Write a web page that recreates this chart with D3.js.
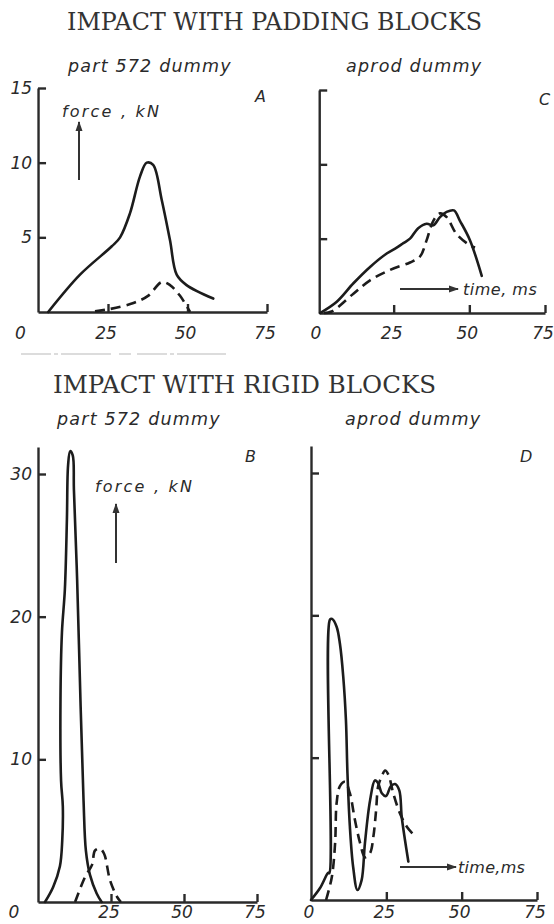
<!DOCTYPE html>
<html>
<head>
<meta charset="utf-8">
<script src="https://cdn.jsdelivr.net/npm/d3@7"></script>
<style>
  body { margin: 0; background: #fff; }
  svg { display: block; }
  .lbl { font-family: "DejaVu Sans", sans-serif; font-style: italic; fill: #2a2a2a; }
  .ttl { font-family: "DejaVu Serif", serif; fill: #333; }
</style>
</head>
<body>
<svg id="chart"></svg>
<script>
// tick values
const xTicks = [0, 25, 50, 75];
const padYTicks = [5, 10, 15];
const rigidYTicks = [10, 20, 30];

// A: padding blocks, part 572 dummy  [time ms, force kN]
const aSolid = [[6.2, 0], [16.2, 2.5], [26.2, 4.4], [28.8, 5.0], [31.9, 6.6], [35.1, 9.1],
  [37.2, 10.0], [39.2, 9.85], [41.9, 7.5], [44.5, 4.8], [46.6, 2.5], [49.7, 1.8], [58.1, 0.9]];
const aDashed = [[20.9, 0.05], [25.6, 0.2], [33.0, 0.6], [37.7, 1.1], [41.9, 2.0],
  [44.5, 1.8], [47.6, 1.1], [50.8, 0]];

// C: padding blocks, aprod dummy
const cSolid = [[0.7, 0], [6.2, 0.76], [11.7, 2.0], [17.2, 3.1], [22.7, 4.0], [26.0, 4.4],
  [28.2, 4.7], [30.4, 5.0], [33.1, 5.7], [35.9, 6.0], [38.1, 5.9], [40.3, 6.45], [42.5, 6.8],
  [44.9, 6.9], [46.9, 6.2], [50.2, 4.9], [54.1, 2.5]];
const cDashed = [[2.0, 0], [4.5, 0.1], [11.7, 1.3], [17.2, 2.2], [23.8, 2.9], [30.4, 3.4],
  [33.7, 3.8], [35.9, 4.9], [38.1, 6.2], [40.3, 6.7], [42.5, 6.45], [45.8, 5.3], [50.2, 4.55], [51.9, 4.4]];

// B: rigid blocks, part 572 dummy
const bSolid = [[2.4, 0], [5.2, 1.05], [7.5, 2.5], [8.3, 4.3], [8.5, 6.7], [7.9, 8.5], [7.7, 14.2],
  [8.2, 18.9], [9.2, 21.9], [9.9, 26.8], [10.3, 30.6], [11.0, 31.6], [11.9, 31.3], [12.3, 28.9],
  [13.4, 22.6], [14.6, 13.7], [15.6, 7.1], [16.4, 3.6], [17.8, 1.9], [20.1, 0.6], [21.8, 0]];
const bDashed = [[12.7, 0], [16.1, 1.75], [18.5, 2.6], [19.5, 3.6], [21.1, 3.75], [22.6, 3.4],
  [24.7, 1.5], [27.1, 0.35], [28.4, 0]];

// D: rigid blocks, aprod dummy
const dSolid = [[0, 0], [3.0, 0.84], [5.7, 1.9], [6.1, 1.9], [6.3, 19.7], [7.0, 19.75], [8.5, 19.2],
  [9.6, 18.0], [10.7, 15.7], [11.6, 12.6], [12.1, 8.9], [12.9, 5.15], [14.0, 2.3], [15.4, 0.7],
  [16.8, 1.4], [17.9, 4.0], [19.6, 7.0], [21.2, 8.4], [22.3, 8.2], [23.5, 7.5], [24.9, 7.3],
  [26.5, 8.0], [27.9, 8.15], [29.3, 7.7], [30.1, 5.85], [31.2, 4.2], [32.3, 2.7]];
const dDashed = [[5.0, 0], [6.9, 1.6], [8.0, 4.0], [8.5, 6.8], [9.6, 8.0], [11.3, 8.3], [12.9, 7.5],
  [14.6, 5.6], [16.3, 4.0], [17.9, 3.0], [19.6, 3.3], [20.7, 4.45], [21.6, 6.3], [22.3, 8.0],
  [23.5, 8.7], [24.6, 9.1], [25.7, 8.8], [27.3, 7.5], [29.5, 6.1], [31.8, 5.15], [34.0, 4.6]];

const W = 554, H = 924;
const ink = "#1c1c1c";

const svg = d3.select("#chart").attr("width", W).attr("height", H);

svg.append("defs").append("marker")
  .attr("id", "head").attr("viewBox", "0 0 10 10")
  .attr("refX", 9).attr("refY", 5)
  .attr("markerWidth", 5).attr("markerHeight", 5)
  .attr("markerUnits", "strokeWidth")
  .attr("orient", "auto")
  .append("path").attr("d", "M0,1.5 L10,5 L0,8.5 Z").attr("fill", "#333");

// titles (typewriter look: serif stretched to fixed width)
svg.append("text").attr("class", "ttl").attr("x", 67).attr("y", 30)
  .attr("textLength", 415).attr("lengthAdjust", "spacingAndGlyphs")
  .style("font-size", "24px")
  .text("IMPACT WITH PADDING BLOCKS");
svg.append("text").attr("class", "ttl").attr("x", 53).attr("y", 393)
  .attr("textLength", 383).attr("lengthAdjust", "spacingAndGlyphs")
  .style("font-size", "24px")
  .text("IMPACT WITH RIGID BLOCKS");

// faint scan mark between the two halves
svg.append("line").attr("x1", 21).attr("x2", 226).attr("y1", 354).attr("y2", 354)
  .attr("stroke", "#777").attr("stroke-width", 1.2).attr("stroke-dasharray", "30 3 4 3 50 8 12 6")
  .attr("opacity", 0.5);

const panels = [
  { solid: aSolid, dashed: aDashed, xr: [28.5, 267], yr: [312, 88], top: 15, ymax: 15,
    yTicks: padYTicks, yLabels: true, axisAt: 3, zeroDx: -8, labY: 339,
    sub: "part 572 dummy", subX: 68, subY: 72, letter: "A", letX: 255, letY: 102 },
  { solid: cSolid, dashed: cDashed, xr: [318, 545], yr: [313, 90], top: 15, ymax: 15,
    yTicks: padYTicks, yLabels: false, axisAt: 0.4, zeroDx: -2, labY: 339,
    sub: "aprod dummy", subX: 346, subY: 72, letter: "C", letX: 539, letY: 105 },
  { solid: bSolid, dashed: bDashed, xr: [38, 257], yr: [902, 474], top: 31.9, ymax: 30,
    yTicks: rigidYTicks, yLabels: true, axisAt: 0, zeroDx: -24, labY: 918,
    sub: "part 572 dummy", subX: 57, subY: 425, letter: "B", letX: 245, letY: 462 },
  { solid: dSolid, dashed: dDashed, xr: [311, 537], yr: [900, 473], top: 31.9, ymax: 30,
    yTicks: rigidYTicks, yLabels: false, axisAt: 0, zeroDx: -2, labY: 918,
    sub: "aprod dummy", subX: 345, subY: 425, letter: "D", letX: 520, letY: 462 }
];

panels.forEach(p => {
  const x = d3.scaleLinear().domain([0, 75]).range(p.xr);
  const y = d3.scaleLinear().domain([0, p.ymax]).range(p.yr);
  const ax = x(p.axisAt);
  const g = svg.append("g");

  // y axis, ticks pointing inwards
  const yAxisScale = y.copy().domain([0, p.top]).range([y(0), y(p.top)]);
  g.append("g").attr("transform", `translate(${ax},0)`)
    .call(d3.axisLeft(yAxisScale).tickValues(p.yTicks).tickSizeInner(-8).tickSizeOuter(0).tickFormat(""))
    .call(s => s.selectAll("path, line").attr("stroke", "#2a2a2a").attr("stroke-width", 2.4));

  // x axis, ticks pointing up
  const xAxisScale = x.copy().domain([p.axisAt, 75]).range([ax, x(75)]);
  g.append("g").attr("transform", `translate(0,${y(0)})`)
    .call(d3.axisBottom(xAxisScale).tickValues([25, 50, 75]).tickSizeInner(-8).tickSizeOuter(0).tickFormat(""))
    .call(s => s.selectAll("path, line").attr("stroke", "#2a2a2a").attr("stroke-width", 2.4));

  // tick labels
  g.selectAll(".xl").data(xTicks).join("text")
    .attr("class", "lbl").attr("x", d => x(d) + (d === 0 ? p.zeroDx : -2)).attr("y", p.labY)
    .attr("text-anchor", "middle").style("font-size", "17px").text(d => d);
  if (p.yLabels) {
    g.selectAll(".yl").data(p.yTicks).join("text")
      .attr("class", "lbl").attr("x", ax - 6).attr("y", d => y(d) + 6)
      .attr("text-anchor", "end").style("font-size", "17px").text(d => d);
  }

  const line = d3.line().x(d => x(d[0])).y(d => y(d[1])).curve(d3.curveCatmullRom.alpha(0.5));
  g.append("path").datum(p.solid).attr("d", line)
    .attr("fill", "none").attr("stroke", ink).attr("stroke-width", 2.6)
    .attr("stroke-linejoin", "round").attr("stroke-linecap", "round");
  g.append("path").datum(p.dashed).attr("d", line)
    .attr("fill", "none").attr("stroke", ink).attr("stroke-width", 2.6)
    .attr("stroke-dasharray", "10 6");

  svg.append("text").attr("class", "lbl").attr("x", p.subX).attr("y", p.subY)
    .style("font-size", "17.5px").style("letter-spacing", "1.2px").text(p.sub);
  svg.append("text").attr("class", "lbl").attr("x", p.letX).attr("y", p.letY)
    .style("font-size", "16px").text(p.letter);
});

// force / time annotations
function upArrow(xp, y1, y2) {
  svg.append("line").attr("x1", xp).attr("x2", xp).attr("y1", y1).attr("y2", y2)
    .attr("stroke", "#333").attr("stroke-width", 2).attr("marker-end", "url(#head)");
}
function rightArrow(x1, x2, yp) {
  svg.append("line").attr("x1", x1).attr("x2", x2).attr("y1", yp).attr("y2", yp)
    .attr("stroke", "#333").attr("stroke-width", 2).attr("marker-end", "url(#head)");
}
svg.append("text").attr("class", "lbl").attr("x", 62).attr("y", 117)
  .style("font-size", "16px").style("letter-spacing", "2.2px").text("force , kN");
upArrow(79, 180, 122);
svg.append("text").attr("class", "lbl").attr("x", 95).attr("y", 492)
  .style("font-size", "16px").style("letter-spacing", "2.2px").text("force , kN");
upArrow(116, 563, 504);
rightArrow(400, 458, 289);
svg.append("text").attr("class", "lbl").attr("x", 463).attr("y", 295)
  .style("font-size", "16px").style("letter-spacing", "0.5px").text("time, ms");
rightArrow(400, 456, 867);
svg.append("text").attr("class", "lbl").attr("x", 458).attr("y", 873)
  .style("font-size", "16px").style("letter-spacing", "0.3px").text("time,ms");
</script>
</body>
</html>
